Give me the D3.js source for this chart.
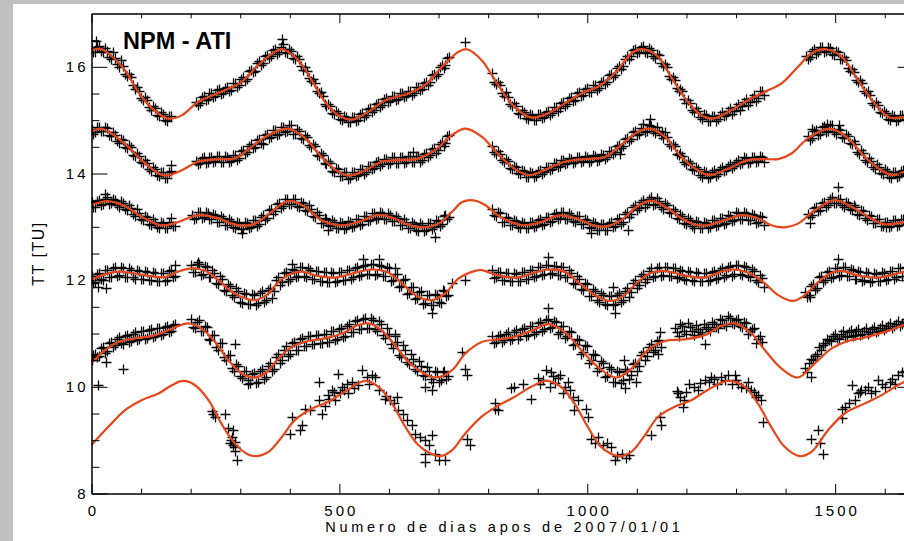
<!DOCTYPE html>
<html><head><meta charset="utf-8">
<script src="https://cdn.jsdelivr.net/npm/d3@7"></script>
<style>html,body{margin:0;padding:0;background:#c0c0c0;} svg{display:block;}</style>
</head><body>
<svg id="chart" width="904" height="541"></svg>
<script>
const titleText = "NPM - ATI";
const xLabel = "Numero de dias apos de 2007/01/01";
const yLabel = "TT [TU]";
const xDomain = [0, 1658];
const yDomain = [8, 17];
const xMajorTicks = [0, 500, 1000, 1500];
const xMinorTicks = [100,200,300,400,600,700,800,900,1100,1200,1300,1400,1600];
const yMajorTicks = [8, 10, 12, 14, 16];
const yMinorTicks = [8.5,9,9.5,10.5,11,11.5,12.5,13,13.5,14.5,15,15.5,16.5];

// fitted curves [day, value]
const curve1 = [[0,16.31],[17,16.34],[34,16.25],[67,15.94],[101,15.44],[135,15.125],[155,15.03],[182,15.09],[215,15.34],[269,15.56],[303,15.72],[336,16.03],[370,16.28],[384,16.33],[417,16.125],[444,15.75],[471,15.34],[498,15.09],[525,15.01],[559,15.16],[592,15.37],[639,15.5],[673,15.66],[707,16.0],[740,16.28],[757,16.33],[787,16.125],[820,15.66],[853,15.25],[887,15.05],[920,15.125],[954,15.31],[994,15.53],[1021,15.625],[1055,15.875],[1089,16.25],[1112,16.33],[1143,16.19],[1169,15.81],[1203,15.34],[1230,15.09],[1254,15.03],[1291,15.19],[1331,15.41],[1358,15.53],[1392,15.69],[1425,16.0],[1452,16.25],[1482,16.33],[1513,16.19],[1546,15.75],[1580,15.31],[1610,15.05],[1639,15.06],[1658,15.1]];
const curve2 = [[0,14.78],[20,14.84],[67,14.56],[101,14.25],[135,14.0],[151,13.96],[182,14.06],[215,14.22],[256,14.27],[289,14.28],[323,14.5],[357,14.72],[397,14.84],[431,14.66],[464,14.31],[498,14.03],[522,13.96],[552,14.06],[585,14.22],[619,14.25],[659,14.28],[693,14.44],[727,14.72],[754,14.84],[787,14.69],[819,14.375],[853,14.09],[883,13.97],[920,14.09],[954,14.22],[994,14.27],[1035,14.31],[1068,14.53],[1102,14.78],[1126,14.84],[1156,14.69],[1190,14.31],[1223,14.06],[1247,13.97],[1284,14.09],[1324,14.25],[1358,14.27],[1385,14.27],[1412,14.375],[1445,14.66],[1489,14.84],[1526,14.66],[1560,14.31],[1593,14.06],[1614,13.97],[1639,14.03],[1658,14.1]];
const curve3 = [[0,13.41],[34,13.48],[67,13.39],[101,13.19],[135,13.04],[151,13.03],[175,13.09],[209,13.21],[222,13.22],[256,13.16],[283,13.06],[303,13.02],[330,13.06],[363,13.28],[390,13.46],[404,13.48],[431,13.375],[464,13.125],[498,13.03],[511,13.03],[538,13.09],[565,13.19],[579,13.22],[606,13.175],[633,13.06],[666,12.99],[700,13.06],[727,13.28],[747,13.46],[767,13.5],[794,13.41],[819,13.22],[846,13.09],[873,13.03],[907,13.09],[940,13.21],[960,13.2],[988,13.125],[1015,13.02],[1035,13.0],[1068,13.125],[1102,13.39],[1129,13.49],[1163,13.34],[1196,13.125],[1223,13.03],[1243,13.03],[1277,13.125],[1311,13.22],[1344,13.16],[1371,13.03],[1398,12.99],[1425,13.06],[1459,13.31],[1499,13.5],[1533,13.375],[1566,13.19],[1600,13.05],[1639,13.09],[1658,13.12]];
const curve4 = [[0,12.0],[20,12.09],[54,12.16],[87,12.125],[121,12.075],[148,12.06],[175,12.16],[202,12.22],[229,12.175],[256,12.0],[283,11.78],[310,11.66],[330,11.625],[357,11.75],[377,11.97],[404,12.125],[424,12.16],[458,12.075],[491,12.05],[525,12.125],[565,12.2],[599,12.14],[626,11.94],[653,11.72],[686,11.625],[713,11.75],[740,12.03],[774,12.175],[787,12.19],[819,12.09],[860,12.05],[887,12.125],[920,12.2],[954,12.16],[988,11.91],[1021,11.69],[1048,11.61],[1075,11.72],[1102,11.97],[1129,12.14],[1156,12.175],[1196,12.09],[1237,12.05],[1270,12.16],[1297,12.2],[1331,12.11],[1358,11.94],[1385,11.72],[1415,11.61],[1439,11.72],[1466,11.97],[1493,12.14],[1513,12.175],[1546,12.09],[1587,12.05],[1639,12.16],[1658,12.2]];
const curve5 = [[0,10.44],[27,10.69],[54,10.84],[87,10.91],[121,10.95],[155,11.06],[195,11.19],[222,11.09],[249,10.84],[276,10.5],[303,10.25],[326,10.175],[350,10.25],[377,10.53],[404,10.75],[437,10.86],[471,10.91],[505,11.0],[538,11.16],[559,11.19],[585,11.06],[612,10.78],[639,10.47],[673,10.24],[696,10.175],[727,10.31],[754,10.625],[787,10.84],[819,10.89],[853,10.94],[887,11.05],[920,11.175],[954,11.03],[988,10.69],[1021,10.375],[1058,10.175],[1089,10.34],[1122,10.69],[1156,10.86],[1196,10.89],[1237,10.97],[1270,11.14],[1297,11.19],[1331,11.0],[1358,10.69],[1392,10.34],[1425,10.175],[1459,10.44],[1493,10.72],[1526,10.86],[1560,10.925],[1600,11.03],[1639,11.16],[1658,11.2]];
const curve6 = [[0,8.91],[34,9.25],[67,9.56],[101,9.75],[135,9.875],[162,10.03],[185,10.11],[209,10.03],[236,9.75],[262,9.31],[289,8.94],[316,8.73],[333,8.7],[357,8.78],[384,9.06],[410,9.375],[444,9.59],[478,9.72],[511,9.91],[552,10.11],[579,10.0],[606,9.69],[633,9.25],[659,8.91],[686,8.74],[703,8.7],[727,8.81],[754,9.125],[787,9.44],[819,9.64],[853,9.81],[887,10.0],[917,10.11],[947,10.0],[974,9.69],[1001,9.25],[1028,8.875],[1065,8.7],[1089,8.78],[1116,9.09],[1143,9.44],[1176,9.625],[1210,9.75],[1243,9.94],[1284,10.11],[1318,10.0],[1344,9.69],[1371,9.25],[1398,8.875],[1428,8.7],[1452,8.78],[1486,9.19],[1519,9.5],[1560,9.69],[1593,9.84],[1639,10.09],[1658,10.12]];

// observations: runs of values sampled every `step` days from `start`
const obs1 = [
 {start:0, step:8, v:[16.36,16.28,16.4,16.27,16.3,16.15,16.17,15.99,16.02,15.83,15.8,15.58,15.55,15.37,15.38,15.2,15.22,15.08,15.11,14.99,15.07]},
 {start:4, step:8, v:[16.27,16.38,16.29,16.35,16.19,16.27,16.05,16.12,15.87,15.86,15.65,15.62,15.41,15.43,15.25,15.26,15.1,15.15,15.01,15.08]},
 {start:210, step:8, v:[15.35,15.32,15.45,15.4,15.5,15.46,15.58,15.51,15.62,15.57,15.7,15.65,15.8,15.78,15.95,15.93,16.1,16.08,16.23,16.2,16.33,16.27,16.42,16.26,16.3,16.14,16.15,15.95,15.93,15.73,15.7,15.5,15.46,15.27,15.26,15.11,15.13,15.01,15.06,14.96,15.05,15.0,15.13,15.09,15.22,15.19,15.32,15.29,15.41,15.36,15.46,15.4,15.51,15.45,15.55,15.51,15.63,15.58,15.71,15.71,15.87,15.87,16.03,16.03,16.18]},
 {start:214, step:8, v:[15.28,15.44,15.37,15.51,15.43,15.57,15.49,15.61,15.55,15.69,15.62,15.77,15.74,15.92,15.9,16.07,16.04,16.2,16.16,16.31,16.25,16.38,16.27,16.33,16.17,16.2,16.01,16.0,15.79,15.77,15.55,15.53,15.31,15.31,15.13,15.17,15.02,15.08,14.97,15.06,14.98,15.12,15.06,15.21,15.15,15.3,15.25,15.4,15.34,15.46,15.38,15.5,15.43,15.55,15.48,15.62,15.56,15.7,15.66,15.84,15.82,16.0,15.98,16.16]},
 {start:808, step:8, v:[15.88,15.68,15.65,15.46,15.44,15.27,15.26,15.11,15.15,15.02,15.09,15.0,15.12,15.06,15.17,15.13,15.25,15.22,15.34,15.3,15.44,15.38,15.52,15.47,15.6,15.53,15.65,15.6,15.74,15.71,15.87,15.84,16.02,16.01,16.2,16.2,16.34,16.27,16.4,16.26,16.31,16.17,16.22,16.01,15.99,15.77,15.76,15.55,15.54,15.33,15.33,15.16,15.18,15.03,15.09,14.98,15.07,15.02,15.15,15.1,15.23,15.17,15.3,15.26,15.4,15.34,15.47,15.42,15.55]},
 {start:812, step:8, v:[15.72,15.71,15.5,15.52,15.31,15.33,15.14,15.19,15.04,15.11,15.0,15.12,15.04,15.16,15.1,15.24,15.18,15.33,15.27,15.42,15.36,15.51,15.45,15.59,15.52,15.65,15.57,15.72,15.68,15.84,15.8,15.97,15.96,16.15,16.15,16.32,16.26,16.38,16.27,16.35,16.21,16.25,16.07,16.05,15.83,15.81,15.6,15.59,15.39,15.38,15.2,15.22,15.06,15.11,14.99,15.08,14.98,15.1,15.08,15.18,15.11,15.25,15.19,15.34,15.28,15.42,15.36,15.54,15.47]},
 {start:1442, step:8, v:[16.2,16.19,16.33,16.27,16.38,16.29,16.36,16.23,16.28,16.14,16.12,15.93,15.9,15.71,15.69,15.5,15.48,15.29,15.29,15.13,15.14,15.01,15.08,15.0,15.09,15.02,15.11,15.06]},
 {start:1446, step:8, v:[16.15,16.3,16.25,16.37,16.28,16.38,16.24,16.3,16.15,16.18,15.97,15.96,15.75,15.75,15.55,15.54,15.33,15.34,15.16,15.18,15.02,15.09,14.99,15.09,15.01,15.12,15.04]}
];
const extra1 = [[10,16.48],[384,16.52],[753,16.47]];

const obs2 = [
 {start:0, step:8, v:[14.83,14.77,14.88,14.8,14.85,14.71,14.73,14.58,14.63,14.48,14.49,14.32,14.33,14.19,14.2,14.05,14.08,13.95,14.02,13.91,14.04]},
 {start:4, step:8, v:[14.75,14.87,14.79,14.87,14.73,14.77,14.61,14.65,14.5,14.53,14.35,14.38,14.21,14.25,14.08,14.12,13.97,14.03,13.91,14.02]},
 {start:210, step:8, v:[14.24,14.19,14.3,14.22,14.31,14.23,14.33,14.22,14.31,14.24,14.34,14.29,14.44,14.4,14.55,14.5,14.65,14.56,14.75,14.69,14.82,14.75,14.88,14.79,14.9,14.74,14.79,14.64,14.68,14.5,14.51,14.32,14.34,14.17,14.2,14.03,14.08,13.95,14.02,13.91,14.03,13.97,14.08,14.03,14.15,14.1,14.24,14.18,14.27,14.19,14.3,14.2,14.31,14.21,14.32,14.22,14.33,14.26,14.39,14.35,14.47,14.44,14.6,14.58,14.72]},
 {start:214, step:8, v:[14.17,14.29,14.2,14.31,14.22,14.33,14.21,14.32,14.22,14.34,14.26,14.42,14.36,14.52,14.47,14.62,14.58,14.73,14.66,14.81,14.73,14.88,14.78,14.9,14.75,14.83,14.66,14.72,14.53,14.56,14.35,14.39,14.19,14.24,14.05,14.1,13.96,14.03,13.9,14.02,13.95,14.08,14.0,14.14,14.08,14.22,14.15,14.28,14.17,14.3,14.19,14.31,14.2,14.32,14.21,14.33,14.22,14.36,14.3,14.46,14.38,14.55,14.52,14.7]},
 {start:808, step:8, v:[14.52,14.36,14.37,14.22,14.24,14.09,14.12,14.0,14.04,13.93,14.01,13.95,14.06,14.02,14.13,14.09,14.2,14.15,14.26,14.19,14.28,14.21,14.3,14.23,14.31,14.24,14.33,14.26,14.35,14.3,14.43,14.41,14.54,14.52,14.67,14.65,14.79,14.75,14.92,14.8,14.89,14.76,14.79,14.67,14.68,14.52,14.51,14.34,14.33,14.18,14.2,14.06,14.09,13.94,14.02,13.93,14.06,14.0,14.12,14.07,14.18,14.14,14.25,14.2,14.29,14.22,14.3,14.23,14.31]},
 {start:812, step:8, v:[14.4,14.42,14.25,14.28,14.11,14.15,14.01,14.07,13.94,14.02,13.93,14.05,13.99,14.13,14.06,14.2,14.13,14.25,14.17,14.29,14.19,14.31,14.21,14.32,14.22,14.34,14.24,14.36,14.27,14.42,14.37,14.52,14.48,14.65,14.61,14.77,14.72,14.85,14.78,14.9,14.79,14.87,14.73,14.78,14.55,14.56,14.37,14.38,14.21,14.24,14.08,14.13,13.98,14.05,13.92,14.03,13.96,14.08,14.04,14.14,14.11,14.21,14.17,14.3,14.2,14.31,14.21,14.32,14.22]},
 {start:1445, step:8, v:[14.7,14.66,14.82,14.75,14.89,14.79,14.9,14.75,14.81,14.66,14.7,14.55,14.56,14.37,14.38,14.22,14.24,14.09,14.12,13.99,14.04,13.92,14.02,13.95,14.06,14.0,14.12]},
 {start:1449, step:8, v:[14.63,14.79,14.73,14.88,14.78,14.9,14.77,14.84,14.68,14.75,14.58,14.61,14.41,14.44,14.25,14.29,14.12,14.17,14.01,14.08,13.94,14.03,13.93,14.05,13.98,14.1]}
];
const extra2 = [[161,14.16],[649,14.4],[1066,14.37],[1126,15.03],[1150,14.77],[1453,14.84],[1483,14.93],[1507,14.9]];

const obs3 = [
 {start:0, step:8, v:[13.46,13.38,13.5,13.42,13.55,13.44,13.51,13.38,13.45,13.31,13.36,13.2,13.25,13.12,13.18,13.03,13.1,12.98,13.08,12.97,13.1,13.02]},
 {start:4, step:8, v:[13.37,13.49,13.41,13.53,13.43,13.52,13.4,13.48,13.33,13.4,13.24,13.33,13.14,13.2,13.06,13.14,13.0,13.09,12.97,13.1,13.01]},
 {start:202, step:8, v:[13.23,13.16,13.27,13.18,13.26,13.14,13.22,13.1,13.17,13.04,13.11,12.98,13.07,12.96,13.08,12.99,13.12,13.06,13.22,13.17,13.33,13.29,13.45,13.39,13.53,13.43,13.52,13.38,13.44,13.3,13.34,13.18,13.22,13.07,13.14,13.01,13.09,12.98,13.08,12.97,13.1,13.02,13.14,13.06,13.2,13.12,13.25,13.16,13.26,13.15,13.23,13.11,13.17,13.04,13.1,12.98,13.06,12.93,13.04,12.94,13.07,12.99,13.11,13.05,13.22,13.19]},
 {start:206, step:8, v:[13.15,13.27,13.17,13.28,13.14,13.24,13.1,13.2,13.04,13.14,12.99,13.1,12.96,13.09,12.98,13.12,13.02,13.19,13.13,13.31,13.24,13.42,13.35,13.53,13.42,13.53,13.39,13.47,13.32,13.4,13.2,13.27,13.08,13.17,13.03,13.12,12.97,13.09,12.96,13.11,13.0,13.15,13.04,13.2,13.11,13.26,13.15,13.28,13.14,13.26,13.11,13.21,13.04,13.14,12.98,13.1,12.94,13.07,12.93,13.08,12.96,13.12,13.02,13.2,13.15]},
 {start:808, step:8, v:[13.34,13.2,13.25,13.1,13.16,13.03,13.11,12.98,13.08,12.98,13.1,13.01,13.14,13.05,13.19,13.11,13.26,13.16,13.27,13.14,13.23,13.1,13.2,13.05,13.13,12.98,13.08,12.94,13.05,12.95,13.09,13.01,13.17,13.1,13.28,13.24,13.41,13.36,13.5,13.42,13.55,13.43,13.49,13.34,13.41,13.25,13.3,13.14,13.2,13.05,13.13,12.98,13.09,12.97,13.08,12.99,13.12,13.04,13.17,13.07,13.21,13.12,13.25,13.14,13.26,13.13,13.23,13.1,13.18]},
 {start:812, step:8, v:[13.22,13.27,13.1,13.18,13.03,13.12,12.99,13.09,12.97,13.1,13.0,13.13,13.04,13.18,13.09,13.24,13.15,13.27,13.14,13.25,13.11,13.21,13.06,13.15,12.99,13.09,12.95,13.06,12.94,13.08,12.99,13.15,13.06,13.24,13.19,13.38,13.32,13.47,13.37,13.53,13.41,13.54,13.38,13.45,13.27,13.34,13.16,13.24,13.07,13.16,13.01,13.11,12.97,13.09,12.98,13.12,13.02,13.17,13.06,13.22,13.11,13.27,13.14,13.27,13.12,13.24,13.08,13.2,13.03]},
 {start:1445, step:8, v:[13.24,13.22,13.37,13.31,13.47,13.41,13.55,13.45,13.52,13.38,13.45,13.32,13.38,13.22,13.29,13.13,13.2,13.07,13.14,13.01,13.1,13.01,13.12,13.03,13.14,13.06,13.16]},
 {start:1449, step:8, v:[13.19,13.35,13.3,13.44,13.38,13.52,13.44,13.53,13.4,13.47,13.33,13.4,13.24,13.31,13.16,13.23,13.08,13.15,13.02,13.1,13.0,13.12,13.02,13.14,13.04,13.16]}
];
const extra3 = [[27,13.62],[161,13.16],[303,12.88],[478,12.94],[693,12.81],[1008,12.88],[1082,12.94],[1449,13.08],[1506,13.75],[1603,13.0]];

const obs4 = [
 {start:0, step:8, v:[12.07,11.96,12.13,12.0,12.2,12.05,12.24,12.09,12.22,12.06,12.2,12.03,12.18,12.02,12.16,12.0,12.14,11.99,12.13,12.0,12.19,12.08]},
 {start:4, step:8, v:[11.95,12.12,12.02,12.19,12.06,12.23,12.08,12.24,12.06,12.22,12.05,12.2,12.03,12.18,12.01,12.16,11.98,12.14,11.99,12.17,12.06]},
 {start:200, step:8, v:[12.28,12.15,12.3,12.12,12.24,12.06,12.14,11.93,12.02,11.79,11.89,11.68,11.8,11.58,11.74,11.55,11.72,11.57,11.79,11.62,11.86,11.79,12.05,11.96,12.16,12.03,12.2,12.07,12.24,12.06,12.2,12.02,12.17,11.99,12.15,11.97,12.13,11.98,12.16,12.0,12.2,12.05,12.24,12.1,12.28,12.12,12.3,12.11,12.26,12.08,12.23,12.0,12.12,11.9,12.02,11.76,11.88,11.66,11.79,11.57,11.72,11.53,11.72,11.57,11.79,11.73]},
 {start:204, step:8, v:[12.15,12.3,12.1,12.27,12.05,12.2,11.95,12.08,11.82,11.93,11.72,11.85,11.6,11.76,11.56,11.74,11.54,11.75,11.59,11.82,11.66,12.0,11.91,12.14,11.99,12.21,12.05,12.25,12.07,12.22,12.03,12.18,11.99,12.16,11.96,12.15,11.96,12.16,12.0,12.2,12.03,12.23,12.07,12.27,12.11,12.3,12.1,12.28,12.07,12.24,11.99,12.12,11.88,12.01,11.74,11.87,11.64,11.78,11.56,11.73,11.53,11.74,11.6,11.81,11.7]},
 {start:808, step:8, v:[12.19,12.06,12.15,12.0,12.13,11.98,12.12,11.99,12.15,12.03,12.2,12.08,12.25,12.11,12.28,12.13,12.27,12.1,12.24,12.05,12.14,11.92,12.02,11.81,11.92,11.7,11.8,11.6,11.72,11.53,11.7,11.55,11.75,11.63,11.85,11.78,12.0,11.91,12.12,12.02,12.23,12.08,12.24,12.09,12.25,12.08,12.22,12.05,12.17,12.01,12.15,11.99,12.14,11.98,12.14,12.0,12.18,12.04,12.23,12.09,12.27,12.12,12.28,12.1,12.24,12.06,12.18,11.96,12.04]},
 {start:812, step:8, v:[12.04,12.16,12.0,12.14,11.98,12.13,11.99,12.15,12.02,12.2,12.06,12.24,12.1,12.28,12.12,12.27,12.1,12.25,12.06,12.2,11.95,12.08,11.83,11.94,11.71,11.83,11.62,11.76,11.55,11.7,11.54,11.72,11.6,11.8,11.68,11.95,11.85,12.08,11.96,12.17,12.06,12.23,12.07,12.25,12.07,12.22,12.04,12.19,12.02,12.17,12.0,12.15,11.98,12.13,11.98,12.16,12.02,12.2,12.05,12.25,12.08,12.28,12.11,12.26,12.07,12.21,12.0,12.1,11.88]},
 {start:1439, step:8, v:[11.78,11.72,11.93,11.86,12.08,12.0,12.18,12.06,12.23,12.09,12.24,12.08,12.19,12.03,12.15,12.0,12.13,11.98,12.12,11.99,12.14,12.02,12.18,12.05,12.22,12.08,12.25,12.12]},
 {start:1443, step:8, v:[11.68,11.9,11.82,12.05,11.96,12.16,12.04,12.22,12.08,12.25,12.07,12.21,12.02,12.17,11.99,12.15,11.97,12.13,11.98,12.15,12.0,12.18,12.03,12.22,12.07,12.25,12.1]}
];
const extra4 = [[13,11.88],[30,11.85],[168,12.28],[215,12.34],[404,12.31],[548,12.4],[579,12.4],[612,12.22],[686,11.38],[727,11.94],[754,12.0],[920,12.44],[1052,11.88],[1055,11.38],[1449,11.69],[1506,12.39]];

const obs5 = [
 {start:0, step:8, v:[10.5,10.62,10.58,10.75,10.68,10.85,10.78,10.93,10.8,10.98,10.86,11.02,10.9,11.05,10.92,11.08,10.96,11.1,11.0,11.15,11.04,11.18]},
 {start:4, step:8, v:[10.6,10.55,10.72,10.64,10.82,10.74,10.9,10.82,10.96,10.85,11.0,10.88,11.04,10.9,11.07,10.94,11.1,10.98,11.13,11.02,11.16]},
 {start:200, step:8, v:[11.28,11.1,11.25,11.04,11.12,10.88,10.98,10.7,10.82,10.5,10.6,10.3,10.4,10.17,10.3,10.08,10.26,10.1,10.33,10.18,10.45,10.34,10.62,10.5,10.76,10.62,10.85,10.7,10.92,10.76,10.95,10.8,10.98,10.82,11.0,10.85,11.05,10.9,11.1,10.95,11.18,11.02,11.25,11.08,11.3,11.1,11.26,11.04,11.18,10.92,11.0,10.72,10.84,10.55,10.7,10.42,10.52,10.3,10.4,10.2,10.3,10.1,10.28,10.12,10.3,10.2]},
 {start:204, step:8, v:[11.12,11.22,11.05,11.15,10.9,10.98,10.75,10.82,10.55,10.6,10.35,10.42,10.2,10.3,10.12,10.25,10.08,10.3,10.15,10.4,10.3,10.56,10.45,10.7,10.58,10.82,10.7,10.9,10.76,10.95,10.8,10.98,10.82,11.0,10.85,11.04,10.88,11.08,10.94,11.15,11.02,11.24,11.08,11.28,11.1,11.3,11.08,11.24,10.98,11.1,10.8,10.95,10.6,10.78,10.46,10.62,10.34,10.48,10.22,10.37,10.14,10.3,10.1,10.28,10.15]},
 {start:808, step:8, v:[10.95,10.85,10.98,10.88,11.02,10.9,11.06,10.95,11.1,10.98,11.15,11.02,11.22,11.08,11.27,11.12,11.22,11.02,11.14,10.95,11.02,10.8,10.88,10.66,10.76,10.5,10.6,10.35,10.45,10.2,10.34,10.1,10.28,10.12,10.3,10.22,10.45,10.4,10.65,10.58,10.8,10.7,10.88]},
 {start:812, step:8, v:[10.82,10.96,10.85,10.99,10.87,11.02,10.9,11.08,10.95,11.14,11.0,11.2,11.05,11.26,11.1,11.24,11.0,11.15,10.92,11.04,10.78,10.9,10.62,10.78,10.45,10.62,10.3,10.48,10.18,10.38,10.1,10.3,10.08,10.33,10.14,10.42,10.3,10.6,10.5,10.75,10.66,10.86,10.75]},
 {start:1176, step:8, v:[11.1,10.95,11.15,11.0,11.12,10.98,11.08,11.0,11.12,11.05,11.18,11.1,11.25,11.15,11.3,11.18,11.28,11.12,11.2,11.05,11.1,10.9,10.85]},
 {start:1180, step:8, v:[11.02,11.18,11.05,11.2,11.04,11.16,11.03,11.18,11.08,11.22,11.12,11.28,11.18,11.32,11.2,11.26,11.15,11.22,11.0,11.08,10.82,10.95]},
 {start:1439, step:8, v:[10.35,10.45,10.5,10.62,10.7,10.82,10.88,10.95,10.92,11.0,10.95,11.02,10.96,11.04,10.98,11.05,11.0,11.08,11.02,11.1,11.06,11.14,11.1,11.18,11.15,11.22,11.2,11.28]},
 {start:1443, step:8, v:[10.28,10.52,10.58,10.75,10.78,10.9,10.86,11.0,10.9,11.04,10.94,11.06,10.97,11.08,11.0,11.1,11.03,11.13,11.05,11.16,11.1,11.2,11.14,11.24,11.18,11.27,11.22]}
];
const extra5 = [[13,10.03],[30,10.47],[64,10.33],[289,10.81],[316,10.06],[336,10.09],[612,11.0],[673,10.0],[686,9.94],[747,10.66],[754,10.34],[757,10.22],[920,11.47],[1075,10.5],[1076,9.97],[1099,10.09],[1143,10.62],[1146,11.02],[1149,10.74],[1237,10.81],[1452,10.19],[1455,10.5]];

const obs6 = [];
const extra6 = [[243,9.55],[246,9.5],[250,9.44],[269,9.5],[276,9.22],[279,8.94],[282,9.0],[283,9.06],[286,9.19],[286,8.91],[289,8.97],[289,8.88],[290,8.8],[293,8.62],[400,9.12],[404,9.44],[421,9.19],[424,9.28],[431,9.59],[441,9.56],[458,9.75],[458,10.09],[464,9.5],[470,9.65],[478,9.84],[480,9.78],[485,9.94],[490,9.9],[491,9.75],[498,10.25],[501,9.88],[505,10.0],[510,9.95],[515,10.06],[518,9.88],[525,10.1],[530,9.98],[538,10.03],[545,10.31],[555,10.18],[560,10.05],[565,10.22],[572,10.19],[579,9.94],[592,9.78],[595,9.82],[602,9.75],[610,9.7],[616,9.81],[619,9.56],[629,9.5],[636,9.38],[646,9.28],[653,9.12],[663,9.06],[673,9.0],[673,8.75],[673,8.59],[680,8.91],[686,9.09],[693,8.75],[700,8.62],[713,8.62],[757,9.03],[764,8.91],[814,9.59],[814,9.69],[820,9.56],[846,9.97],[853,10.0],[870,10.06],[887,9.78],[900,10.16],[904,10.05],[910,10.12],[917,10.31],[924,10.0],[927,10.28],[930,10.2],[935,10.08],[941,10.16],[945,10.22],[951,9.88],[955,10.0],[961,10.09],[965,9.95],[971,9.81],[974,9.56],[981,9.75],[998,9.59],[1001,9.44],[1008,9.03],[1015,8.94],[1021,9.06],[1031,8.91],[1040,8.95],[1048,8.88],[1055,8.62],[1060,8.7],[1070,8.75],[1079,8.66],[1085,8.72],[1129,9.09],[1146,9.44],[1149,9.28],[1180,9.92],[1183,9.88],[1188,9.8],[1193,9.62],[1196,9.75],[1200,9.9],[1205,10.05],[1216,10.0],[1223,9.94],[1228,10.08],[1237,10.12],[1245,10.1],[1250,10.19],[1256,10.15],[1262,10.05],[1270,10.18],[1278,10.12],[1284,10.22],[1291,10.06],[1297,10.22],[1300,10.12],[1305,10.05],[1311,10.0],[1320,9.98],[1325,10.1],[1331,9.94],[1337,9.9],[1341,9.81],[1345,9.85],[1351,9.75],[1355,9.34],[1452,9.03],[1466,9.19],[1469,8.94],[1476,8.75],[1513,9.41],[1513,9.59],[1520,9.62],[1527,9.7],[1533,10.03],[1540,9.75],[1546,9.88],[1550,9.9],[1553,9.95],[1560,9.94],[1566,10.0],[1573,9.88],[1580,9.92],[1587,10.12],[1594,10.06],[1600,10.0],[1610,10.09],[1615,10.15],[1620,10.05],[1627,10.22],[1634,10.28],[1640,10.3],[1646,10.2]];

const observations = [[obs1,extra1],[obs2,extra2],[obs3,extra3],[obs4,extra4],[obs5,extra5],[obs6,extra6]];
const curves = [curve1,curve2,curve3,curve4,curve5,curve6];

const svg = d3.select("#chart");
const font = "'Liberation Sans', Arial, Helvetica, sans-serif";
svg.append("rect").attr("width",904).attr("height",541).attr("fill","#c0c0c0");
svg.append("rect").attr("x",13).attr("y",4).attr("width",891).attr("height",537).attr("fill","#ffffff");

const x = d3.scaleLinear().domain(xDomain).range([91.5, 913.5]);
const y = d3.scaleLinear().domain(yDomain).range([493.5, 13.5]);

svg.append("clipPath").attr("id","clip").append("rect")
  .attr("x",91.5).attr("y",13.5).attr("width",822).attr("height",480);
const plot = svg.append("g").attr("clip-path","url(#clip)");

// observation markers
observations.forEach(([runs, extras]) => {
  const pts = [];
  runs.forEach(r => r.v.forEach((v,i) => pts.push([r.start + i*r.step, v])));
  extras.forEach(p => pts.push(p));
  const h = 5;
  const d = pts.map(p => {
    const px = Math.round(x(p[0])) + 0.5, py = Math.round(y(p[1])) + 0.5;
    return `M${px-h},${py}H${px+h}M${px},${py-h}V${py+h}`;
  }).join("");
  plot.append("path").attr("d", d).attr("fill","none").attr("stroke","#000").attr("stroke-width",1.3);
});

// fitted curves
const line = d3.line().x(d => x(d[0])).y(d => y(d[1])).curve(d3.curveCatmullRom.alpha(0.5));
curves.forEach(c => {
  plot.append("path").attr("d", line(c)).attr("fill","none")
    .attr("stroke","#e5461a").attr("stroke-width",2.2).attr("stroke-linejoin","round");
});

// axes
const ls = 3;
function styleAxis(g){
  g.selectAll("path.domain").attr("stroke","#000").attr("stroke-width",1);
  g.selectAll(".tick line").attr("stroke","#000").attr("stroke-width",1);
  g.selectAll("text").attr("fill","#000").style("font-family",font).style("font-size","15px").style("letter-spacing",ls+"px");
}
const gl = svg.append("g").attr("transform","translate(91.5,0)")
  .call(d3.axisLeft(y).tickValues(yMajorTicks).tickSize(-16).tickSizeOuter(0).tickPadding(3).tickFormat(d3.format("d")));
styleAxis(gl);
svg.append("g").attr("transform","translate(91.5,0)")
  .call(d3.axisLeft(y).tickValues(yMinorTicks).tickSize(-8).tickSizeOuter(0).tickFormat("")).call(styleAxis);
svg.append("g").attr("transform","translate(913.5,0)")
  .call(d3.axisRight(y).tickValues(yMajorTicks).tickSize(-16).tickSizeOuter(0).tickFormat("")).call(styleAxis);
svg.append("g").attr("transform","translate(913.5,0)")
  .call(d3.axisRight(y).tickValues(yMinorTicks).tickSize(-8).tickSizeOuter(0).tickFormat("")).call(styleAxis);

const gb = svg.append("g").attr("transform","translate(0,493.5)")
  .call(d3.axisBottom(x).tickValues(xMajorTicks).tickSize(-9.6).tickSizeOuter(0).tickPadding(11.5).tickFormat(d3.format("d")));
styleAxis(gb);
gb.selectAll("text").attr("dx", (ls/2)+"px");
svg.append("g").attr("transform","translate(0,493.5)")
  .call(d3.axisBottom(x).tickValues(xMinorTicks).tickSize(-4.8).tickSizeOuter(0).tickFormat("")).call(styleAxis);
svg.append("g").attr("transform","translate(0,13.5)")
  .call(d3.axisTop(x).tickValues(xMajorTicks).tickSize(-9.6).tickSizeOuter(0).tickFormat("")).call(styleAxis);
svg.append("g").attr("transform","translate(0,13.5)")
  .call(d3.axisTop(x).tickValues(xMinorTicks).tickSize(-4.8).tickSizeOuter(0).tickFormat("")).call(styleAxis);

// texts
svg.append("text").attr("x",123).attr("y",49).text(titleText)
  .style("font-family",font).style("font-size","23.5px").style("font-weight","bold").attr("fill","#000");
svg.append("text").attr("x",502.5 + 1.9).attr("y",532).attr("text-anchor","middle").text(xLabel)
  .style("font-family",font).style("font-size","14.5px").style("letter-spacing","3.75px").attr("fill","#000");
svg.append("text").attr("transform","translate(44,253.5) rotate(-90)").attr("text-anchor","middle").text(yLabel)
  .style("font-family",font).style("font-size","16px").style("letter-spacing","1.5px").attr("fill","#000");
</script>
</body></html>
